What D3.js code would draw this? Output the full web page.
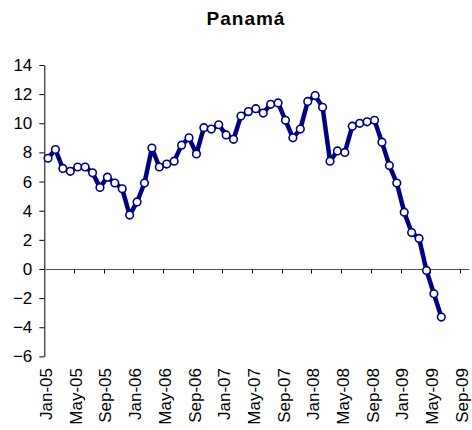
<!DOCTYPE html>
<html>
<head>
<meta charset="utf-8">
<script src="https://cdn.jsdelivr.net/npm/d3@7"></script>
<style>
  body { margin: 0; background: #fff; }
  svg { display: block; font-family: "Liberation Sans", Arial, sans-serif; }
</style>
</head>
<body>
<script>
// x categories (monthly), only every 4th one gets a label
var months = [
  "Jan-05","Feb-05","Mar-05","Apr-05","May-05","Jun-05","Jul-05","Aug-05","Sep-05","Oct-05","Nov-05","Dec-05",
  "Jan-06","Feb-06","Mar-06","Apr-06","May-06","Jun-06","Jul-06","Aug-06","Sep-06","Oct-06","Nov-06","Dec-06",
  "Jan-07","Feb-07","Mar-07","Apr-07","May-07","Jun-07","Jul-07","Aug-07","Sep-07","Oct-07","Nov-07","Dec-07",
  "Jan-08","Feb-08","Mar-08","Apr-08","May-08","Jun-08","Jul-08","Aug-08","Sep-08","Oct-08","Nov-08","Dec-08",
  "Jan-09","Feb-09","Mar-09","Apr-09","May-09","Jun-09","Jul-09","Aug-09","Sep-09"
];

// Panama series, Jan-05 .. Jun-09
var values = [
  7.6, 8.2, 6.9, 6.7, 7.0, 7.0, 6.6, 5.6, 6.3, 5.9, 5.5, 3.7,
  4.6, 5.9, 8.3, 7.0, 7.2, 7.4, 8.5, 9.0, 7.9, 9.7, 9.6, 9.9,
  9.2, 8.9, 10.5, 10.8, 11.0, 10.7, 11.3, 11.4, 10.2, 9.0, 9.6, 11.5,
  11.9, 11.1, 7.4, 8.1, 8.0, 9.8, 10.0, 10.1, 10.2, 8.7, 7.1, 5.9,
  3.9, 2.5, 2.1, -0.1, -1.7, -3.3
];

var yTicks = [-6, -4, -2, 0, 2, 4, 6, 8, 10, 12, 14];
var labelMonths = months.filter(function(d, i) { return i % 4 === 0; });

var width = 472, height = 430;
var svg = d3.select("body").append("svg")
  .attr("width", width)
  .attr("height", height);

var x = d3.scaleBand()
  .domain(months)
  .range([44.3, 467.3]);
var bw = x.bandwidth();

var y = d3.scaleLinear()
  .domain([-6, 14])
  .range([356.4, 65]);

// title
svg.append("text")
  .attr("x", 246)
  .attr("y", 25)
  .attr("text-anchor", "middle")
  .style("font-size", "19px")
  .style("font-weight", "bold")
  .style("letter-spacing", "1px")
  .text("Panamá");

// y axis
var yAxis = svg.append("g")
  .attr("transform", "translate(" + x.range()[0] + ",0)")
  .call(d3.axisLeft(y).tickValues(yTicks).tickSize(5).tickSizeOuter(0).tickPadding(7));
yAxis.select(".domain").attr("stroke", "#000");
yAxis.selectAll("line").attr("stroke", "#000");
yAxis.selectAll("text")
  .style("font-size", "17px")
  .attr("fill", "#000")
  .attr("font-family", null);

// x axis sits on zero
var y0 = Math.round(y(0)) + 0.5;
svg.append("line")
  .attr("x1", x.range()[0])
  .attr("x2", x.range()[1] + 2)
  .attr("y1", y0)
  .attr("y2", y0)
  .attr("stroke", "#555");

svg.selectAll(".xtick")
  .data(labelMonths.slice(1))
  .enter().append("line")
  .attr("class", "xtick")
  .attr("x1", function(d) { return Math.round(x(d)) + 0.5; })
  .attr("x2", function(d) { return Math.round(x(d)) + 0.5; })
  .attr("y1", y0)
  .attr("y2", y0 + 4)
  .attr("stroke", "#000");

svg.selectAll(".xlabel")
  .data(labelMonths)
  .enter().append("text")
  .attr("class", "xlabel")
  .attr("transform", function(d) {
    return "translate(" + (x(d) + bw / 2 - 1) + ",368) rotate(-90)";
  })
  .attr("text-anchor", "end")
  .attr("dy", "0.3em")
  .style("font-size", "17px")
  .text(function(d) { return d; });

// the series
var line = d3.line()
  .x(function(d, i) { return x(months[i]) + bw / 2; })
  .y(function(d) { return y(d); });

svg.append("path")
  .datum(values)
  .attr("fill", "none")
  .attr("stroke", "#000080")
  .attr("stroke-width", 4.5)
  .attr("stroke-linejoin", "round")
  .attr("d", line);

svg.selectAll(".dot")
  .data(values)
  .enter().append("circle")
  .attr("class", "dot")
  .attr("cx", function(d, i) { return x(months[i]) + bw / 2; })
  .attr("cy", function(d) { return y(d); })
  .attr("r", 3.8)
  .attr("fill", "#fff")
  .attr("stroke", "#000080")
  .attr("stroke-width", 1.6);
</script>
</body>
</html>
